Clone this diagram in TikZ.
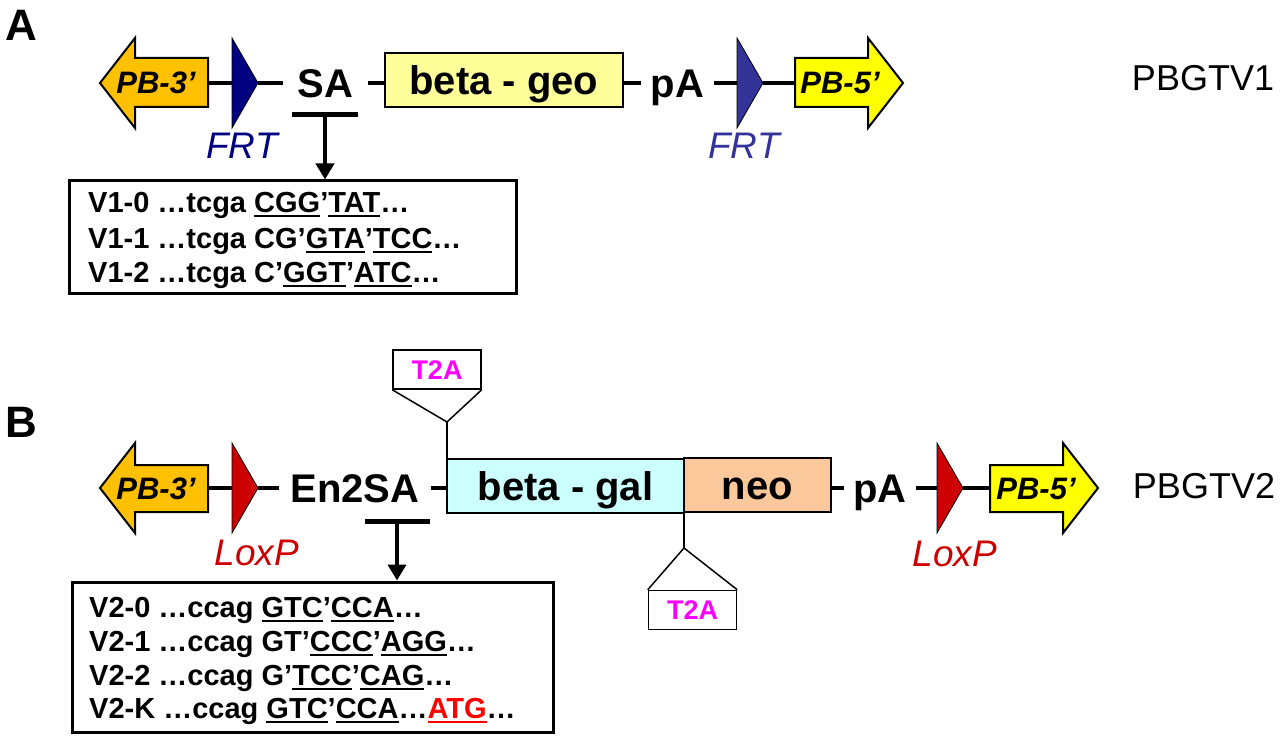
\documentclass[tikz,border=0pt]{standalone}
\usepackage{fontspec}
\setmainfont{Liberation Sans}
\usetikzlibrary{arrows.meta}
\definecolor{pbgold}{RGB}{255,192,0}
\definecolor{pbyel}{RGB}{255,255,0}
\definecolor{frtA}{RGB}{0,0,128}
\definecolor{frtB}{RGB}{51,51,153}
\definecolor{loxred}{RGB}{204,0,0}
\definecolor{geoyel}{RGB}{255,255,153}
\definecolor{galcyan}{RGB}{204,255,255}
\definecolor{neopeach}{RGB}{250,200,155}
\definecolor{tmag}{RGB}{255,0,255}
\definecolor{atgred}{RGB}{255,0,0}
\newcommand{\lblfont}{\fontsize{40}{44}\selectfont\bfseries}
\newcommand{\panelfont}{\fontsize{44}{48}\selectfont\bfseries}
\newcommand{\pbfont}{\fontsize{31}{34}\selectfont\bfseries\itshape}
\newcommand{\sitefont}{\fontsize{37}{40}\selectfont\itshape}
\newcommand{\seqfont}{\fontsize{29}{31}\selectfont\bfseries}
\newcommand{\tfont}{\fontsize{27}{30}\selectfont\bfseries}
\newcommand{\vfont}{\fontsize{36}{40}\selectfont}
\newcommand{\uln}[1]{\leavevmode\setbox0\hbox{#1}\rlap{\rule[-4.5pt]{\wd0}{2pt}}\box0}
\begin{document}
\begin{tikzpicture}[x=1pt,y=-1pt,
  wire/.style={line width=3.5pt},
  pbarrow/.style={draw=black,line width=2pt,line join=miter},
  sitetri/.style={draw=black,line width=0.8pt,line join=miter},
  lbl/.style={inner sep=0pt,font=\lblfont,text height=28.6pt,text depth=0pt},
  panel/.style={inner sep=0pt,font=\panelfont,text height=31.5pt,text depth=0pt},
  gene/.style={draw=black,line width=2pt,inner sep=0pt,font=\lblfont,text height=28.6pt,text depth=0pt},
  pbtext/.style={inner sep=0pt,font=\pbfont,text height=22pt,text depth=0pt},
  sitetext/.style={inner sep=0pt,font=\sitefont,text height=26.5pt,text depth=0pt},
  vtext/.style={inner sep=0pt,font=\vfont,text height=25.8pt,text depth=0pt},
  seqrow/.style={inner sep=0pt,anchor=base west,font=\seqfont},
  seqbox/.style={draw=black,line width=3pt,inner sep=0pt},
  tbar/.style={line width=5pt},
  tarrow/.style={line width=4pt,-{Triangle[width=18pt,length=16pt]}},
  t2abox/.style={draw=black,line width=1.5pt,inner sep=0pt,font=\tfont,text=tmag,
    text height=19.3pt,text depth=0pt,minimum width=88pt,minimum height=39pt},
  t2aline/.style={line width=1.5pt}
]
\useasboundingbox (0,0) rectangle (1280,738);
\fill[white] (0,0) rectangle (1280,738);

% ---------- panel labels ----------
\node[panel] (labA) at (21,25) {A};
\node[panel] (labB) at (21,422) {B};

% ================= Panel A =================
\coordinate (pb3aR) at (208,83);
\coordinate (frt1L) at (232,83);
\coordinate (frt1R) at (258,83);
\coordinate (frt2L) at (737,83);
\coordinate (frt2R) at (763,83);
\coordinate (pb5aL) at (795,83);
\node[lbl,inner xsep=15pt] (sa) at (325.5,83) {SA};
\node[gene,fill=geoyel,minimum width=238pt,minimum height=54pt] (geo) at (504,80) {beta - geo};
\node[lbl,inner xsep=10pt] (pa1) at (677.5,83) {pA};

\draw[wire] (pb3aR) -- (frt1L);
\draw[wire] (frt1R) -- (sa.west);
\draw[wire] (sa.east) -- (sa.east -| geo.west);
\draw[wire] (pa1.west -| geo.east) -- (pa1.west);
\draw[wire] (pa1.east) -- (frt2L);
\draw[wire] (frt2R) -- (pb5aL);

\draw[pbarrow,fill=pbgold] (100,83) -- (135,38) -- (135,58) -- (208,58) -- (208,107) -- (135,107) -- (135,128) -- cycle;
\node[pbtext] (pb3a) at (156,83) {PB-3’};
\draw[sitetri,fill=frtA] (232,38) -- (258,83) -- (232,128) -- cycle;
\node[sitetext,text=frtA] (frt1lbl) at (242,145) {FRT};
\draw[sitetri,fill=frtB] (737,38) -- (763,83) -- (737,128) -- cycle;
\node[sitetext,text=frtB] (frt2lbl) at (744,145) {FRT};
\draw[pbarrow,fill=pbyel] (795,58) -- (868,58) -- (868,38) -- (903,83) -- (868,128) -- (868,107) -- (795,107) -- cycle;
\node[pbtext] (pb5a) at (840,83) {PB-5’};
\node[vtext] (v1) at (1203,78) {PBGTV1};

% splice variants A
\coordinate (barA) at (325,115);
\draw[tbar] (292,115) -- (358,115);
\node[seqbox,minimum width=447pt,minimum height=112pt] (seqA) at (292.5,237) {};
\draw[tarrow] (barA) -- (barA |- seqA.north);
\node[seqrow] (a0) at (88,213) {V1-0 …tcga \uln{CGG}’\uln{TAT}…};
\node[seqrow] (a1) at (88,248) {V1-1 …tcga CG’\uln{GTA}’\uln{TCC}…};
\node[seqrow] (a2) at (88,283) {V1-2 …tcga C’\uln{GGT}’\uln{ATC}…};

% ================= Panel B =================
\coordinate (pb3bR) at (208,488);
\coordinate (lox1L) at (232,488);
\coordinate (lox1R) at (258,488);
\coordinate (lox2L) at (937,488);
\coordinate (lox2R) at (963,488);
\coordinate (pb5bL) at (990,488);
\node[lbl,inner xsep=11pt] (en2sa) at (355,488) {En2SA};
\node[gene,fill=galcyan,minimum width=237pt,minimum height=54pt] (gal) at (565.5,486) {beta - gal};
\node[gene,fill=neopeach,minimum width=147pt,minimum height=54pt] (neo) at (757.5,485) {neo};
\node[lbl,inner xsep=9pt] (pa2) at (880,488) {pA};

\draw[wire] (pb3bR) -- (lox1L);
\draw[wire] (lox1R) -- (en2sa.west);
\draw[wire] (en2sa.east) -- (en2sa.east -| gal.west);
\draw[wire] (pa2.west -| neo.east) -- (pa2.west);
\draw[wire] (pa2.east) -- (lox2L);
\draw[wire] (lox2R) -- (pb5bL);

\draw[pbarrow,fill=pbgold] (100,488) -- (135,443) -- (135,465) -- (208,465) -- (208,512) -- (135,512) -- (135,533) -- cycle;
\node[pbtext] (pb3b) at (156,488) {PB-3’};
\draw[sitetri,fill=loxred] (232,443) -- (258,488) -- (232,533) -- cycle;
\node[sitetext,text=loxred] (lox1lbl) at (257,552) {LoxP};
\draw[sitetri,fill=loxred] (937,443) -- (963,488) -- (937,533) -- cycle;
\node[sitetext,text=loxred] (lox2lbl) at (955,553) {LoxP};
\draw[pbarrow,fill=pbyel] (990,465) -- (1063,465) -- (1063,443) -- (1098,488) -- (1063,533) -- (1063,512) -- (990,512) -- cycle;
\node[pbtext] (pb5b) at (1036,488) {PB-5’};
\node[vtext] (v2) at (1204,486) {PBGTV2};

% T2A insertions
\node[t2abox] (t2a1) at (437,369.5) {T2A};
\coordinate (t2a1apex) at (447,422);
\draw[t2aline,line join=miter] (t2a1.south west) -- (t2a1apex) -- (t2a1.south east);
\draw[t2aline] (t2a1apex) -- (t2a1apex |- gal.north);

\node[t2abox] (t2a2) at (692.5,610) {T2A};
\coordinate (t2a2apex) at (684,548);
\draw[t2aline,line join=miter] (t2a2.north west) -- (t2a2apex) -- (t2a2.north east);
\draw[t2aline] (t2a2apex) -- (t2a2apex |- gal.south);

% splice variants B
\coordinate (barB) at (397,521);
\draw[tbar] (365,521) -- (430,521);
\node[seqbox,minimum width=481pt,minimum height=150pt] (seqB) at (312.5,657) {};
\draw[tarrow] (barB) -- (barB |- seqB.north);
\node[seqrow] (b0) at (89,617) {V2-0 …ccag \uln{GTC}’\uln{CCA}…};
\node[seqrow] (b1) at (89,651) {V2-1 …ccag GT’\uln{CCC}’\uln{AGG}…};
\node[seqrow] (b2) at (89,685) {V2-2 …ccag G’\uln{TCC}’\uln{CAG}…};
\node[seqrow] (b3) at (89,718) {V2-K …ccag \uln{GTC}’\uln{CCA}…\textcolor{atgred}{\uln{ATG}}…};
\end{tikzpicture}
\end{document}
